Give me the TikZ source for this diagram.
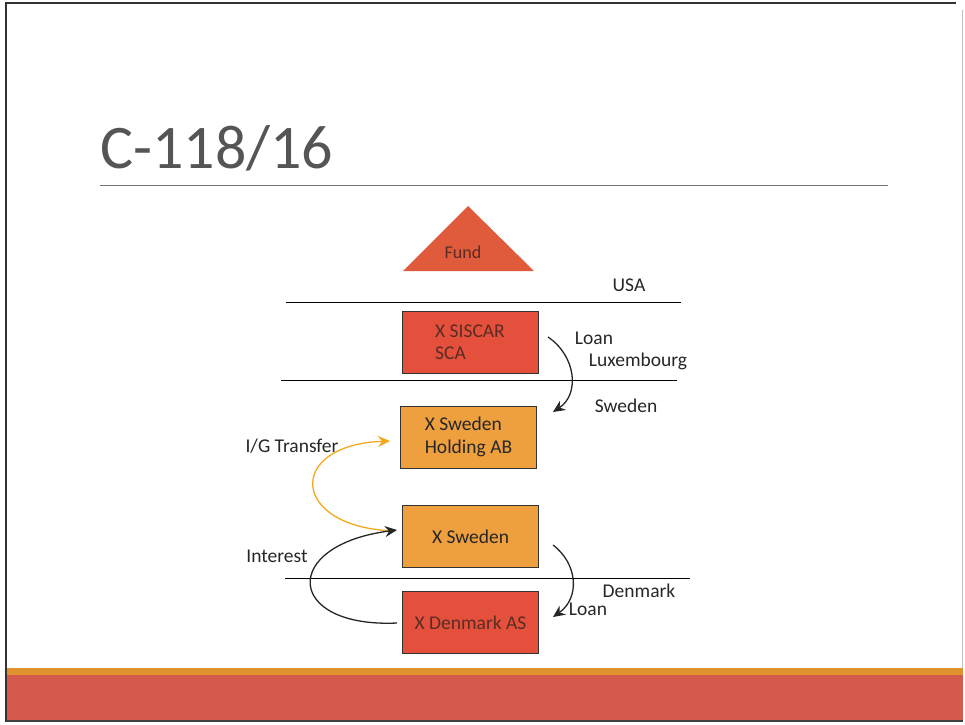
\documentclass[tikz,border=0pt]{standalone}
\usepackage{fontspec}
\setmainfont{Carlito}
\usetikzlibrary{arrows.meta}
\definecolor{boxred}{HTML}{E5503C}
\definecolor{boxorange}{HTML}{EFA03E}
\definecolor{trired}{HTML}{E05A3C}
\definecolor{bandred}{HTML}{D65A4C}
\definecolor{bandorange}{HTML}{E0922E}
\definecolor{boxtext}{HTML}{5A2C24}
\definecolor{titlegray}{HTML}{555555}
\definecolor{igorange}{HTML}{F2A81E}
\begin{document}
\begin{tikzpicture}[x=1pt,y=-1pt,
  entity/.style={draw=black!80,line width=0.9pt,minimum width=#1,minimum height=62pt,inner sep=0pt,font=\fontsize{19.5}{22.5}\selectfont,align=left,text=boxtext},
  entity/.default=136pt,
  redbox/.style={entity,fill=boxred},
  orangebox/.style={entity,fill=boxorange,text=black!85},
  lbl/.style={font=\fontsize{19.5}{22.5}\selectfont,text=black!85,inner sep=0pt},
  border/.style={line width=0.9pt,black},
  flow/.style={line width=1.3pt,black!85,-{Stealth[length=12pt,width=11pt,inset=4pt]}},
  igflow/.style={line width=1.3pt,igorange,-{Stealth[length=12pt,width=11pt,inset=4pt]}}]
\useasboundingbox (0,0) rectangle (965,724);
% slide frame and footer band
\fill[bandorange] (7,668) rectangle (963,675);
\fill[bandred] (7,675) rectangle (963,720);
\draw[line width=2pt,black!80] (6,722) -- (6,3) -- (956,3);
\draw[line width=1.5pt,black!75] (6,721) -- (963,721);
\draw[line width=0.6pt,black!25] (962,10) -- (962,668);
% title
\node[anchor=base west,inner sep=0pt,text=titlegray,font=\fontsize{62}{70}\selectfont] (title) at (100,168) {C-118/16};
\draw[line width=0.8pt,black!55] (100,185) -- (888,185);
% fund triangle
\fill[trired] (468,206) -- (534,271) -- (403,271) -- cycle;
\node[lbl,text=boxtext,font=\fontsize{18}{21}\selectfont] (fund) at (463,252) {Fund};
% country lines
\coordinate (usaL) at (286,302); \coordinate (usaR) at (681,302);
\coordinate (luxL) at (281,380); \coordinate (luxR) at (677,380);
\coordinate (denL) at (285,578); \coordinate (denR) at (690,578);
\draw[border] (usaL) -- (usaR);
\draw[border] (luxL) -- (luxR);
\draw[border] (denL) -- (denR);
% entities
\node[redbox] (siscar) at (470,342) {X SISCAR\\SCA};
\node[orangebox] (holding) at (468.5,437) {X Sweden\\Holding AB};
\node[orangebox] (xsweden) at (470.5,536.5) {X Sweden};
\node[redbox] (denmark) at (470.5,622.5) {X Denmark AS};
% labels
\node[lbl] (usa) at (629,285) {USA};
\node[lbl] (loan1) at (594,338) {Loan};
\node[lbl] (lux) at (638,361) {Luxembourg};
\node[lbl] (swe) at (626,406) {Sweden};
\node[lbl] (ig) at (292,446) {I/G Transfer};
\node[lbl] (interest) at (277,556) {Interest};
\node[lbl] (dk) at (639,591) {Denmark};
\node[lbl] (loan2) at (588,609) {Loan};
% connectors
\coordinate (a1s) at (548,337); \coordinate (a1e) at (553,412);
\draw[flow] (a1s) .. controls (576,356) and (580,394) .. (a1e);
\coordinate (a2s) at (553,545); \coordinate (a2e) at (553,617);
\draw[flow] (a2s) .. controls (578,564) and (580,598) .. (a2e);
\coordinate (igs) at (395,531); \coordinate (ige) at (390,441);
\draw[igflow] (igs) .. controls (290,528) and (285,445) .. (ige);
\coordinate (ins) at (397,623); \coordinate (ine) at (397,530);
\draw[flow] (ins) .. controls (285,628) and (280,545) .. (ine);
\end{tikzpicture}
\end{document}
